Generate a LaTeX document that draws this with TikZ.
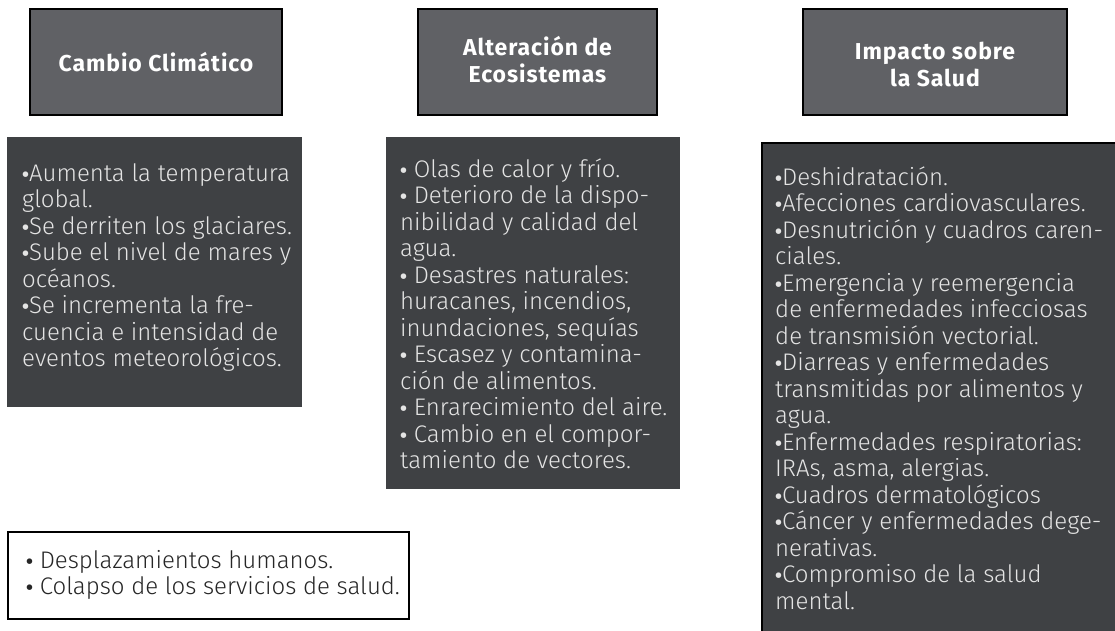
\documentclass[tikz,border=0pt]{standalone}
\usepackage{fontspec}
\setmainfont{Fira Sans}
\newfontfamily\bodyfont{Fira Sans Light}
\definecolor{hdrfill}{HTML}{606165}
\definecolor{boxfill}{HTML}{3F4144}
\definecolor{boxtext}{HTML}{E4E4E4}
\definecolor{darktext}{HTML}{262626}
\newcommand\bl{{\fontspec{Fira Sans}\bfseries\fontsize{20}{20}\selectfont •}}
\tikzset{
  hdrbox/.style={fill=hdrfill, draw=black, line width=2.5pt},
  darkbox/.style={fill=boxfill},
  hdrtext/.style={text=white, font=\addfontfeatures{LetterSpace=4}\bfseries\fontsize{23}{27}\selectfont, align=center, inner sep=0pt},
  bodytext/.style={text=boxtext, anchor=base west, inner sep=0pt},
}
\newcommand\bodylines[1]{\parbox[t]{400pt}{\bodyfont\fontsize{24}{26.5}\selectfont\raggedright #1}}
\begin{document}
\begin{tikzpicture}[x=1pt,y=-1pt]
\useasboundingbox (0,0) rectangle (1115,630);
% headers
\draw[hdrbox] (30,9) rectangle (282,115);
\draw[hdrbox] (418,9) rectangle (657,115);
\draw[hdrbox] (803,9) rectangle (1067,115);
\node[hdrtext] (h1) at (156,62) {Cambio Climático};
\node[hdrtext] (h2) at (537.5,60) {Alteración de\\Ecosistemas};
\node[hdrtext] (h3) at (935,64) {Impacto sobre\\la Salud};
% content boxes
\fill[darkbox] (7,137) rectangle (302,407);
\fill[darkbox] (386,137) rectangle (680,489);
\draw[darkbox, draw=black, line width=2.5pt] (762,143) rectangle (1120,640);
\draw[draw=black, fill=white, line width=2.2pt] (8,532) rectangle (409,619);
\node[bodytext] (c1) at (22,181) {\bodylines{%
\bl Aumenta la temperatura\\
global.\\
\bl Se derriten los glaciares.\\
\bl Sube el nivel de mares y\\
océanos.\\
\bl Se incrementa la fre-\\
cuencia e intensidad de\\
eventos meteorológicos.}};
\node[bodytext] (c2) at (400,177) {\bodylines{%
\bl{} Olas de calor y frío.\\
\bl{} Deterioro de la dispo-\\
nibilidad y calidad del\\
agua.\\
\bl{} Desastres naturales:\\
huracanes, incendios,\\
inundaciones, sequías\\
\bl{} Escasez y contamina-\\
ción de alimentos.\\
\bl{} Enrarecimiento del aire.\\
\bl{} Cambio en el compor-\\
tamiento de vectores.}};
\node[bodytext] (c3) at (775,185) {\bodylines{%
\bl Deshidratación.\\
\bl Afecciones cardiovasculares.\\
\bl Desnutrición y cuadros caren-\\
ciales.\\
\bl Emergencia y reemergencia\\
de enfermedades infecciosas\\
de transmisión vectorial.\\
\bl Diarreas y enfermedades\\
transmitidas por alimentos y\\
agua.\\
\bl Enfermedades respiratorias:\\
IRAs, asma, alergias.\\
\bl Cuadros dermatológicos\\
\bl Cáncer y enfermedades dege-\\
nerativas.\\
\bl Compromiso de la salud\\
mental.}};
\node[bodytext, text=darktext] (c4) at (26,568) {\bodylines{%
\bl{} Desplazamientos humanos.\\
\bl{} Colapso de los servicios de salud.}};
\end{tikzpicture}
\end{document}
